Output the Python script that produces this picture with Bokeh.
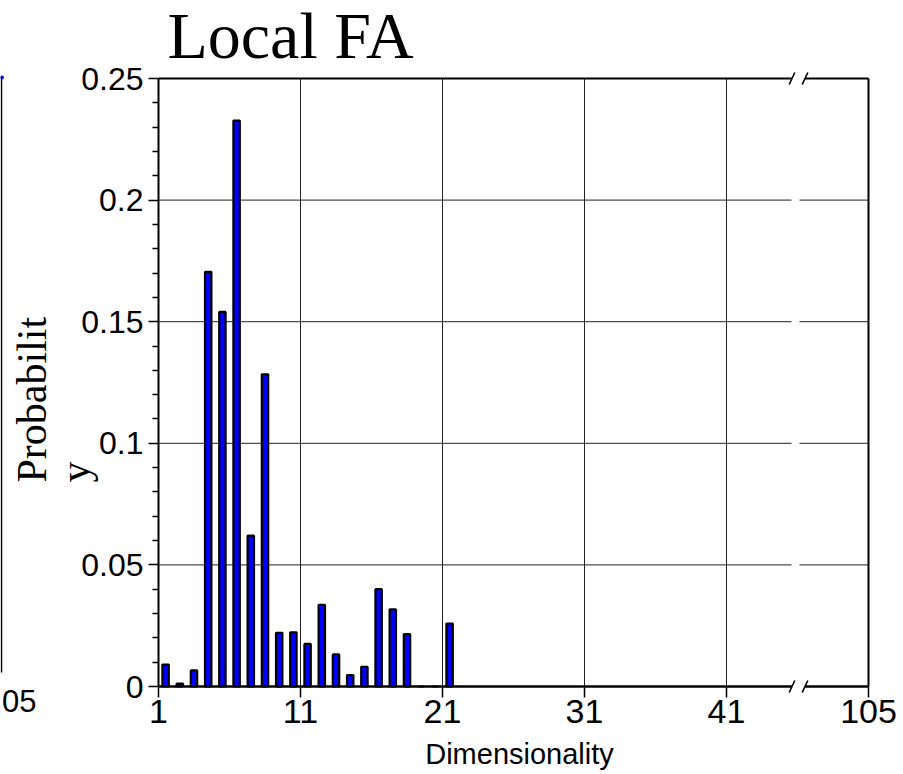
import math
from bokeh.plotting import figure
from bokeh.models import Range1d, FixedTicker, Label, ColumnDataSource, LinearAxis
from bokeh.transform import dodge
from bokeh.embed import file_html
from bokeh.resources import INLINE

# ---- data ----
dims = list(range(1, 22))
probs = [0.009, 0.0012, 0.0066, 0.1705, 0.154, 0.2327, 0.062, 0.1284,
         0.0221, 0.0223, 0.0175, 0.0336, 0.0132, 0.0047, 0.0081, 0.040,
         0.0317, 0.0215, 0.0, 0.0, 0.0259]
x_tick_pos = [1, 11, 21, 31, 41, 51]
x_tick_labels = ["1", "11", "21", "31", "41", "105"]
y_tick_pos = [0, 0.05, 0.1, 0.15, 0.2, 0.25]
y_tick_labels = ["0", "0.05", "0.1", "0.15", "0.2", "0.25"]
y_minor = [round(i * 0.01, 2) for i in range(26) if i % 5]
title_text = "Local FA"
ylabel_lines = ["Probabilit", "y"]
xlabel_text = "Dimensionality"
neighbour_tick_text = "05"

# ---- layout (page pixels) ----
W, H = 903, 774
BOX_L, BOX_R, BOX_T, BOX_B = 158, 868, 78, 686
X0, X1 = 1, 51
Y0, Y1 = 0, 0.25
SX = (BOX_R - BOX_L) / (X1 - X0)
SY = (BOX_B - BOX_T) / (Y1 - Y0)
BASE_SHIFT = 0.36   # label anchor vs. visible baseline, in em


def px2x(px):
    return X0 + (px - BOX_L) / SX


def py2y(py):
    return Y0 + (BOX_B - py) / SY


BRK = px2x(795)            # axis-break position
GRID_GAP = 4 / SX
SL1, SL2 = px2x(791.5), px2x(804.5)
SL_DX, SL_DY = 2.8 / SX, 6 / SY

p = figure(width=W, height=H,
           x_range=Range1d(px2x(0), px2x(W)), y_range=Range1d(py2y(H), py2y(0)),
           output_backend="svg", toolbar_location=None, title=None,
           x_axis_location=None, y_axis_location=None, min_border=0)
p.outline_line_color = None
p.background_fill_color = "white"
p.border_fill_color = "white"
p.grid.visible = False

GRID_C = "#222222"
# grid lines
vx = x_tick_pos[1:-1]
p.segment(x0=vx, x1=vx, y0=[Y0] * len(vx), y1=[Y1] * len(vx),
          line_color=GRID_C, line_width=1)
hy = y_tick_pos[1:-1]
p.segment(x0=[X0] * len(hy) + [BRK + GRID_GAP] * len(hy),
          x1=[BRK - GRID_GAP] * len(hy) + [X1] * len(hy),
          y0=hy + hy, y1=hy + hy, line_color=GRID_C, line_width=1)

# bars
src = ColumnDataSource(dict(dim=dims, prob=probs))
p.vbar(x=dodge("dim", 0.5, range=p.x_range), top="prob", bottom=0, width=0.45,
       source=src, fill_color="#0000FF", line_color="black", line_width=2.2)

# frame lines with break gaps
p.segment(x0=[X0, SL2], x1=[SL1, X1], y0=[Y0, Y0], y1=[Y0, Y0],
          line_color="black", line_width=2.5)
p.segment(x0=[X0, SL2, X1], x1=[SL1, X1, X1], y0=[Y1, Y1, Y0], y1=[Y1, Y1, Y1],
          line_color="black", line_width=2)
sx0, sx1, sy0, sy1 = [], [], [], []
for yy in (Y0, Y1):
    for cx in (SL1, SL2):
        sx0.append(cx - SL_DX); sx1.append(cx + SL_DX)
        sy0.append(yy - SL_DY); sy1.append(yy + SL_DY)
p.segment(x0=sx0, x1=sx1, y0=sy0, y1=sy1, line_color="black", line_width=1.6)

# remnant of neighbouring panel at the left edge
p.segment(x0=[px2x(1)], x1=[px2x(1)], y0=[py2y(77)], y1=[py2y(672)],
          line_color="black", line_width=1.5)
p.scatter(x=[px2x(1.5)], y=[py2y(77)], size=3, color="#0000FF")

# axes
xa = LinearAxis(fixed_location=Y0, bounds=(X0, X1),
                ticker=FixedTicker(ticks=x_tick_pos, minor_ticks=[]))
xa.major_label_overrides = dict(zip(x_tick_pos, x_tick_labels))
xa.major_label_text_font = "Liberation Sans"
xa.major_label_text_font_size = "34px"
xa.major_label_text_color = "black"
xa.major_tick_in = 0
xa.major_tick_out = 11
xa.minor_tick_out = 0
xa.axis_line_color = None
xa.major_tick_line_color = "black"
xa.major_tick_line_width = 1.5
xa.major_label_standoff = 2
p.add_layout(xa, "below")

ya = LinearAxis(fixed_location=X0, bounds=(Y0, Y1),
                ticker=FixedTicker(ticks=y_tick_pos, minor_ticks=y_minor))
ya.major_label_overrides = dict(zip(y_tick_pos, y_tick_labels))
ya.major_label_text_font = "Liberation Sans"
ya.major_label_text_font_size = "32px"
ya.major_label_text_color = "black"
ya.major_tick_in = 0
ya.major_tick_out = 10
ya.minor_tick_in = 0
ya.minor_tick_out = 6
ya.axis_line_width = 2
ya.axis_line_color = "black"
ya.major_tick_line_color = "black"
ya.minor_tick_line_color = "black"
ya.major_tick_line_width = 1.5
ya.minor_tick_line_width = 1.5
ya.major_label_standoff = 5
p.add_layout(ya, "left")


def add_text(text, bx, by, size, font, align="left", angle=0.0):
    """Place text so that its visible baseline starts at page pixel (bx, by)."""
    if angle:
        x, y = bx - BASE_SHIFT * size, H - by
    else:
        x, y = bx, H - by + BASE_SHIFT * size
    p.add_layout(Label(x=x, y=y, x_units="screen", y_units="screen", text=text,
                       angle=angle, text_font=font, text_font_size=f"{size}px",
                       text_color="black", text_align=align,
                       text_baseline="alphabetic"))


add_text(title_text, 167, 59, 66, "Liberation Serif")
add_text(ylabel_lines[0], 47, 482, 42, "Liberation Serif", angle=math.pi / 2)
add_text(ylabel_lines[1], 90, 482, 42, "Liberation Serif", angle=math.pi / 2)
add_text(xlabel_text, 519, 764, 29, "Liberation Sans", align="center")
add_text(neighbour_tick_text, 36, 712, 31, "Liberation Sans", align="right")

open("out.html", "w").write(file_html(p, INLINE))
